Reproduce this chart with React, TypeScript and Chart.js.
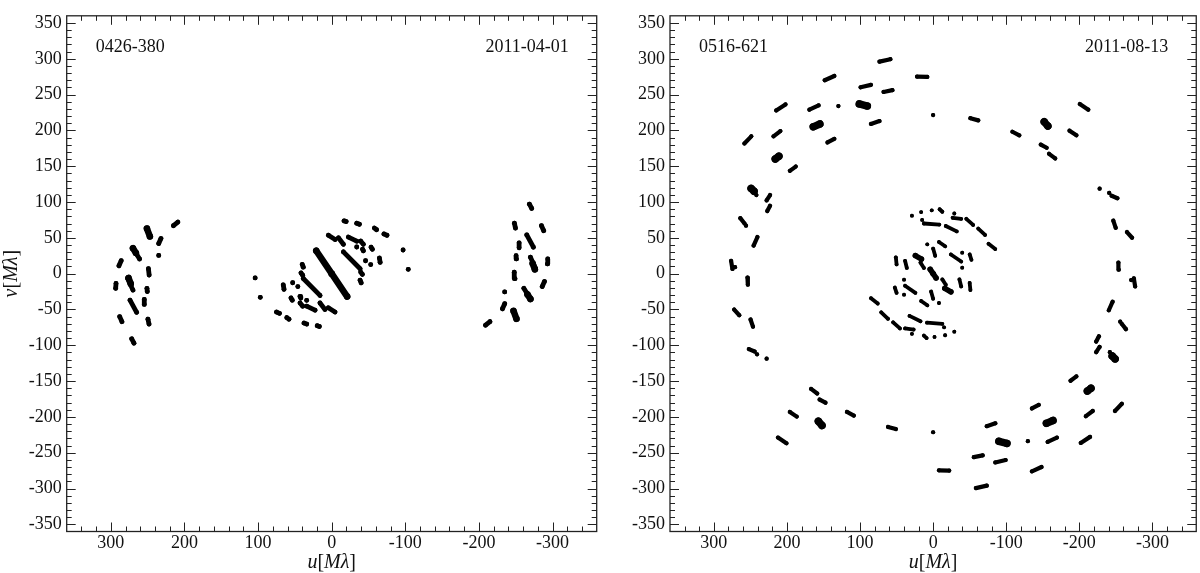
import React, { useEffect, useRef } from "react";
import { Chart, registerables } from "chart.js";

Chart.register(...registerables);

// ---- axis definitions ----
const uTickValues = [300, 200, 100, 0, -100, -200, -300];
const vTickValues = [350, 300, 250, 200, 150, 100, 50, 0, -50, -100, -150, -200, -250, -300, -350];
const axisLimit = 360;
const uMinorStep = 20;
const vMinorStep = 10;

const sourceNames = ["0426-380", "0516-621"];
const epochs = ["2011-04-01", "2011-08-13"];

// ---- uv tracks, u > 0 half (conjugate points -u,-v are added) ----
// each entry: [u1, v1, u2, v2] (scan track) or [u, v] (single point), in Mλ
const leftOuterTracks = [
  [215, 67, 209, 72],
  [235, 42, 232, 49],
  [235, 25.5],
  [289, 11, 286, 18],
  [249, 7, 248, -2],
  [277, -7, 270, -23],
  [293, -13.6, 293.5, -20.5],
  [251, -20.5, 250.5, -25],
  [274, -37, 265, -54],
  [254.6, -36, 254.6, -43],
  [288, -60, 285, -67],
  [249.6, -63.6, 248.2, -70.4],
  [271.7, -91, 268.6, -97],
  [265, 27, 261, 20.5],
];
const leftOuterBlobs = [
  [251, 63, 247, 52],
  [270, 35.5, 266, 29],
  [276, -6, 273, -14],
];
const leftCoreTracks = [
  [104, -6],
  [97, -33],
  [75, -53.6, 71, -55.4],
  [61, -61.4, 58, -63.6],
  [37.6, -69, 34, -70.4],
  [19.6, -72.7, 16.8, -73.7],
  [65.8, -15.8, 64.8, -21.8],
  [53, -12.7],
  [55.3, -34, 53.5, -37],
  [46, -18],
  [40, 12.8, 38.6, 9.1],
  [41.7, 1, 39.4, -2.2],
  [43, -31.8, 42, -34],
  [38.6, -6.8, 15.9, -30.4],
  [43, -41, 39.4, -45.4],
  [34, -37.2],
  [34, -45.4, 22.7, -51],
  [15.9, -41, 9.1, -50],
  [4.6, -47.7, -4.5, -53.6],
];
const leftCoreBlobs = [
  [21, 32, 0, 0],
];

const rightOuterTracks = [
  [73.4, 296, 58.5, 299.4],
  [22, 275, 8, 274.6],
  [148.3, 270, 135.2, 276],
  [99.2, 260.2, 85.1, 263.6],
  [67.8, 253.7, 55.7, 256.2],
  [214.7, 227.9, 202, 236.3],
  [169.3, 228.9, 156.7, 234.9],
  [129.6, 233.9],
  [85.1, 209, 73.4, 213],
  [0, 221.4],
  [218.4, 191.7, 209, 199],
  [144.5, 183.2, 135.2, 188.2],
  [258.2, 181.7, 248.8, 191.7],
  [196, 143.5, 188, 149.5],
  [241.8, 109.7],
  [227.8, 102.3, 223.1, 109.7],
  [226.9, 87.4, 223.1, 94.8],
  [263.8, 77.5, 258, 70],
  [256, 67],
  [245.6, 39.2, 240.4, 51.1],
  [276.4, 17.9, 274.6, 6.5],
  [271, 9],
  [254, -5.5, 253.5, -15.4],
  [272.2, -50.1, 265.2, -58.1],
  [249.8, -64, 246.5, -74],
  [252.1, -105.3, 244.2, -108.7],
  [240.9, -112.7],
  [227.8, -118.7],
  [167, -160.9, 158.6, -167.3],
  [155.3, -175.8, 147.3, -180.2],
  [196, -193.1, 186.6, -199.6],
  [117.9, -193.1, 108.5, -198.1],
  [212.3, -228.9, 200.7, -236.8],
  [61.7, -214, 51, -217],
];
const rightOuterBlobs = [
  [101, 237, 90, 234],
  [164, 205, 155, 209],
  [216, 160, 211, 164],
  [249, 119, 245, 115],
  [157, -206, 152, -212],
];
const rightInnerTracks = [
  [29, 81],
  [16.4, 86],
  [1.9, 88.4],
  [12.6, 70, -8.4, 68.5],
  [15, 75],
  [85, -34.3, 75.8, -41.7],
  [71, -54, 61.7, -63],
  [54.7, -68, 45.4, -76.5],
  [38.4, -76.5, 26.7, -78],
  [29, -84],
  [32.3, -59, 17.3, -66.5],
  [12.6, -86.4, 8.9, -89.9],
  [51, 22.8, 50, 12.9],
  [38.4, 17.9, 36, 8],
  [17.3, 15.4, 12.6, 8],
  [39.8, -8.4],
  [52.4, -19.4, 50, -26.8],
  [38.4, -16.9, 24.3, -26.8],
  [39.8, -29.3],
  [16.4, -38.2, 8, -44.2],
  [0, 35, -2.8, 25],
  [8, 41],
];
const rightInnerBlobs = [
  [24.3, 25.3, 16, 20.4],
  [4, 6, 0, 0],
];

const FONT = '"Liberation Serif", "DejaVu Serif", serif';
const INK = "#111";

type Track = number[];

function toPoints(tracks: Track[]) {
  const pts: { x: number; y: number }[] = [];
  for (const t of tracks) {
    const seg: [number, number][] = t.length === 4 ? [[t[0], t[1]], [t[2], t[3]]] : [[t[0], t[1]]];
    seg.forEach(([u, v]) => pts.push({ x: u, y: v }));
    pts.push({ x: NaN, y: NaN });
    seg.forEach(([u, v]) => pts.push({ x: -u, y: -v }));
    pts.push({ x: NaN, y: NaN });
  }
  return pts;
}

function trackDataset(tracks: Track[], width: number) {
  return {
    data: toPoints(tracks),
    showLine: true,
    borderColor: "#000",
    backgroundColor: "#000",
    pointBackgroundColor: "#000",
    borderWidth: width,
    pointRadius: width / 2,
    pointBorderWidth: 0,
    pointHoverRadius: 0,
    borderCapStyle: "round",
    borderJoinStyle: "round",
    tension: 0,
    spanGaps: false,
  };
}

function drawMixed(ctx: CanvasRenderingContext2D, pieces: [string, boolean][], cx: number, cy: number, size: number) {
  const fontFor = (it: boolean) => `${it ? "italic " : ""}${size}px ${FONT}`;
  let total = 0;
  const widths = pieces.map(([t, it]) => {
    ctx.font = fontFor(it);
    const w = ctx.measureText(t).width;
    total += w;
    return w;
  });
  let x = cx - total / 2;
  ctx.textAlign = "left";
  ctx.textBaseline = "middle";
  pieces.forEach(([t, it], i) => {
    ctx.font = fontFor(it);
    ctx.fillText(t, x, cy);
    x += widths[i];
  });
}

const titlePieces = (axis: string): [string, boolean][] => [
  [axis, true],
  ["[", false],
  ["M", true],
  ["λ", true],
  ["]", false],
];

function framePlugin(panel: number) {
  return {
    id: "frame" + panel,
    afterDraw(chart: any) {
      const { ctx, chartArea, scales } = chart;
      const { left, right, top, bottom } = chartArea;
      const xs = scales.x;
      const ys = scales.y;
      ctx.save();
      ctx.strokeStyle = "#222";
      ctx.lineWidth = 1;
      ctx.beginPath();
      for (let v = -axisLimit + uMinorStep; v < axisLimit; v += uMinorStep) {
        const px = Math.round(xs.getPixelForValue(v)) + 0.5;
        const len = v % 100 === 0 ? 9 : 5;
        ctx.moveTo(px, bottom);
        ctx.lineTo(px, bottom - len);
        ctx.moveTo(px, top);
        ctx.lineTo(px, top + len);
      }
      for (let v = -350; v <= 350; v += vMinorStep) {
        const py = Math.round(ys.getPixelForValue(v)) + 0.5;
        const len = v % 50 === 0 ? 9 : 5;
        ctx.moveTo(left, py);
        ctx.lineTo(left + len, py);
        ctx.moveTo(right, py);
        ctx.lineTo(right - len, py);
      }
      ctx.stroke();
      ctx.lineWidth = 1.3;
      ctx.strokeRect(left, top, right - left, bottom - top);

      ctx.fillStyle = INK;
      ctx.font = `18px ${FONT}`;
      ctx.textBaseline = "middle";
      ctx.textAlign = "left";
      ctx.fillText(sourceNames[panel], left + 29, top + 31);
      ctx.textAlign = "right";
      ctx.fillText(epochs[panel], right - 28, top + 31);

      drawMixed(ctx, titlePieces("u"), (left + right) / 2, 563, 20);
      if (panel === 0) {
        ctx.save();
        ctx.translate(12, (top + bottom) / 2);
        ctx.rotate(-Math.PI / 2);
        drawMixed(ctx, titlePieces("v"), 0, 0, 20);
        ctx.restore();
      }
      ctx.restore();
    },
  };
}

function buildConfig(panel: number): any {
  const datasets =
    panel === 0
      ? [
          trackDataset([...leftOuterTracks, ...leftCoreTracks], 4.8),
          trackDataset([...leftOuterBlobs, ...leftCoreBlobs], 6.5),
        ]
      : [
          trackDataset(rightOuterTracks, 4.2),
          trackDataset(rightOuterBlobs, 7.5),
          trackDataset(rightInnerTracks, 3.8),
          trackDataset(rightInnerBlobs, 5.5),
        ];
  const yWidth = panel === 0 ? 66.7 : 70;
  const padRight = panel === 0 ? 3.3 : 1;
  return {
    type: "scatter",
    data: { datasets },
    plugins: [framePlugin(panel)],
    options: {
      animation: false,
      responsive: false,
      events: [],
      layout: { padding: { left: 0, right: padRight, top: 3, bottom: 0 } },
      plugins: { legend: { display: false }, tooltip: { enabled: false } },
      scales: {
        x: {
          type: "linear",
          min: -axisLimit,
          max: axisLimit,
          reverse: true,
          grid: { display: false, drawTicks: false },
          border: { display: false },
          afterBuildTicks: (s: any) => {
            s.ticks = uTickValues.map((v) => ({ value: v }));
          },
          afterFit: (s: any) => {
            s.height = 41.5;
          },
          ticks: {
            autoSkip: false,
            maxRotation: 0,
            padding: 1,
            color: INK,
            font: { family: FONT, size: 18 },
          },
        },
        y: {
          type: "linear",
          min: -axisLimit,
          max: axisLimit,
          grid: { display: false, drawTicks: false },
          border: { display: false },
          afterBuildTicks: (s: any) => {
            s.ticks = vTickValues.map((v) => ({ value: v }));
          },
          afterFit: (s: any) => {
            s.width = yWidth;
          },
          ticks: {
            autoSkip: false,
            padding: 5,
            color: INK,
            font: { family: FONT, size: 18 },
          },
        },
      },
    },
  };
}

export default function App() {
  const ref1 = useRef<HTMLCanvasElement>(null);
  const ref2 = useRef<HTMLCanvasElement>(null);
  useEffect(() => {
    const c1 = new Chart(ref1.current as HTMLCanvasElement, buildConfig(0));
    const c2 = new Chart(ref2.current as HTMLCanvasElement, buildConfig(1));
    return () => {
      c1.destroy();
      c2.destroy();
    };
  }, []);
  return (
    <div style={{ position: "absolute", left: 0, top: 0, width: 1200, height: 573, background: "#fff" }}>
      <canvas ref={ref1} width={600} height={573} style={{ position: "absolute", left: 0, top: 0, width: 600, height: 573 }} />
      <canvas ref={ref2} width={600} height={573} style={{ position: "absolute", left: 600, top: 0, width: 600, height: 573 }} />
    </div>
  );
}
